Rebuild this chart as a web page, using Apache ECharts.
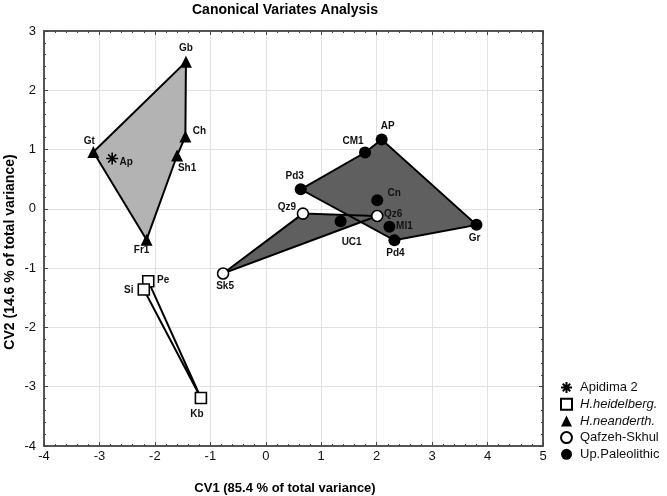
<!DOCTYPE html>
<html>
<head>
<meta charset="utf-8">
<script src="https://cdn.jsdelivr.net/npm/echarts@6/dist/echarts.min.js"></script>
<style>html,body{margin:0;padding:0;background:#fff;}#c{width:667px;height:496px;}</style>
</head>
<body>
<div id="c"></div>
<script>
// ---- data ----
const apidimaNames = ['Ap'];
const apidimaX = [-2.77];
const apidimaY = [0.85];

const heidelNames = ['Pe', 'Si', 'Kb'];
const heidelX = [-2.12, -2.20, -1.17];
const heidelY = [-1.22, -1.36, -3.19];

const neanderNames = ['Gb', 'Ch', 'Sh1', 'Gt', 'Fr1'];
const neanderX = [-1.44, -1.45, -1.60, -3.11, -2.15];
const neanderY = [2.48, 1.22, 0.90, 0.96, -0.52];

const qafzehNames = ['Qz9', 'Qz6', 'Sk5'];
const qafzehX = [0.67, 2.01, -0.77];
const qafzehY = [-0.08, -0.12, -1.09];

const upPalNames = ['AP', 'CM1', 'Pd3', 'Cn', 'UC1', 'Ml1', 'Pd4', 'Gr'];
const upPalX = [2.09, 1.79, 0.63, 2.01, 1.35, 2.23, 2.32, 3.80];
const upPalY = [1.17, 0.95, 0.33, 0.145, -0.21, -0.30, -0.53, -0.27];

const seriesNames = ['Apidima 2', 'H.heidelberg.', 'H.neanderth.', 'Qafzeh-Skhul', 'Up.Paleolithic'];

// polygon outlines (vertex order by specimen name)
const neanderHull = ['Gt', 'Gb', 'Ch', 'Sh1', 'Fr1'];
const heidelHull = ['Pe', 'Kb', 'Si'];
const qafzehHull = ['Sk5', 'Qz9', 'Qz6'];
const upPalHull = ['Pd3', 'CM1', 'AP', 'Gr', 'Pd4'];

// ---- layout / style ----
const FONT = '"Liberation Sans", Arial, sans-serif';
const labelOffsets = {
  Ap: [14, 4], Pe: [15, -1], Si: [-15, 1], Kb: [-4, 16],
  Gb: [0, -14], Ch: [14, -5], Sh1: [10, 13], Gt: [-4, -11], Fr1: [-5, 11],
  Qz9: [-16, -6], Qz6: [16, -2], Sk5: [2, 13],
  AP: [6, -13], CM1: [-12, -11], Pd3: [-6, -13], Cn: [17, -7], UC1: [11, 21],
  Ml1: [15, 0], Pd4: [1, 13], Gr: [-2, 13]
};
const asterisk = 'path://M5,0L5,10M0,5L10,5M1.6,1.6L8.4,8.4M8.4,1.6L1.6,8.4';

function pts(names, xs, ys) {
  return names.map((n, i) => ({
    value: [xs[i], ys[i]],
    name: n,
    label: { offset: labelOffsets[n] || [0, 0] }
  }));
}
function hullVerts(order, names, xs, ys) {
  return order.map(n => { const i = names.indexOf(n); return [xs[i], ys[i]]; });
}
function polySeries(verts, fill, stroke, z) {
  return {
    type: 'custom', z: z, silent: true, data: verts, encode: { x: 0, y: 1 },
    renderItem: function (params, api) {
      if (params.dataIndex !== 0) return { type: 'group', children: [] };
      return {
        type: 'polygon',
        shape: { points: verts.map(v => api.coord(v)) },
        style: { fill: fill, stroke: stroke, lineWidth: stroke === 'none' ? 0 : 2, lineJoin: 'miter' }
      };
    }
  };
}
const labelCfg = {
  show: true, position: 'inside', formatter: '{b}', color: '#111',
  fontSize: 10, fontWeight: 'bold', fontFamily: FONT, textBorderWidth: 0
};

const upV = hullVerts(upPalHull, upPalNames, upPalX, upPalY);
const qzV = hullVerts(qafzehHull, qafzehNames, qafzehX, qafzehY);
const neV = hullVerts(neanderHull, neanderNames, neanderX, neanderY);
const heV = hullVerts(heidelHull, heidelNames, heidelX, heidelY);

const axisCommonX = {
  type: 'value', min: -4, max: 5, interval: 1,
  axisLine: { show: true, onZero: false, lineStyle: { color: '#555', width: 2 } },
  axisTick: { show: true, inside: true, length: 4, lineStyle: { color: '#444' } },
  minorTick: { show: true, splitNumber: 5, length: 2, lineStyle: { color: '#444' } }
};
const axisCommonY = {
  type: 'value', min: -4, max: 3, interval: 1,
  axisLine: { show: true, onZero: false, lineStyle: { color: '#555', width: 2 } },
  axisTick: { show: true, inside: true, length: 4, lineStyle: { color: '#444' } },
  minorTick: { show: true, splitNumber: 5, length: 2, lineStyle: { color: '#444' } }
};

const option = {
  backgroundColor: '#fff',
  animation: false,
  grid: { left: 44, top: 31, width: 499, height: 415 },
  xAxis: [
    Object.assign({}, axisCommonX, {
      position: 'bottom',
      axisLabel: { color: '#111', fontSize: 13, fontFamily: FONT, margin: 4 },
      splitLine: { show: true, lineStyle: { color: '#e2e2e2', width: 1 } }
    }),
    Object.assign({}, axisCommonX, {
      position: 'top', axisLabel: { show: false }, splitLine: { show: false }
    })
  ],
  yAxis: [
    Object.assign({}, axisCommonY, {
      position: 'left',
      axisLabel: { color: '#111', fontSize: 13, fontFamily: FONT, margin: 8 },
      splitLine: { show: true, lineStyle: { color: '#e2e2e2', width: 1 } }
    }),
    Object.assign({}, axisCommonY, {
      position: 'right', axisLabel: { show: false }, splitLine: { show: false }
    })
  ],
  legend: {
    orient: 'vertical', left: 555, top: 376,
    itemWidth: 11, itemHeight: 11, itemGap: 3.7,
    textStyle: { fontSize: 13, fontFamily: FONT, color: '#111', lineHeight: 11, padding: [0, 0, 0, 3] },
    data: [
      { name: seriesNames[0], icon: asterisk },
      { name: seriesNames[1], icon: 'rect', textStyle: { fontStyle: 'italic' } },
      { name: seriesNames[2], icon: 'triangle', textStyle: { fontStyle: 'italic' } },
      { name: seriesNames[3], icon: 'circle' },
      { name: seriesNames[4], icon: 'circle' }
    ]
  },
  graphic: [
    { type: 'text', x: 285, y: 10, style: { text: 'Canonical Variates Analysis', font: 'bold 14px ' + FONT, fill: '#000', align: 'center', verticalAlign: 'middle' } },
    { type: 'text', x: 285, y: 488, style: { text: 'CV1 (85.4 % of total variance)', font: 'bold 13px ' + FONT, fill: '#000', align: 'center', verticalAlign: 'middle' } },
    { type: 'text', x: 10, y: 252, rotation: Math.PI / 2, style: { text: 'CV2 (14.6 % of total variance)', font: 'bold 14px ' + FONT, fill: '#000', align: 'center', verticalAlign: 'middle' } }
  ],
  series: [
    polySeries(neV, '#b3b3b3', 'none', 1),
    polySeries(heV, '#ffffff', 'none', 1),
    polySeries(upV, '#5f5f5f', 'none', 1),
    polySeries(qzV, '#5f5f5f', 'none', 1),
    polySeries(neV, 'none', '#000', 2),
    polySeries(heV, 'none', '#000', 2),
    polySeries(upV, 'none', '#000', 2),
    polySeries(qzV, 'none', '#000', 2),
    {
      name: seriesNames[0], type: 'scatter', z: 3, symbol: asterisk, symbolSize: 12,
      itemStyle: { color: 'rgba(0,0,0,0)', borderColor: '#000', borderWidth: 1.6, opacity: 1 },
      label: labelCfg, data: pts(apidimaNames, apidimaX, apidimaY)
    },
    {
      name: seriesNames[1], type: 'scatter', z: 3, symbol: 'rect', symbolSize: 11,
      itemStyle: { color: '#fff', borderColor: '#000', borderWidth: 1.6, opacity: 1 },
      label: labelCfg, data: pts(heidelNames, heidelX, heidelY)
    },
    {
      name: seriesNames[2], type: 'scatter', z: 3, symbol: 'triangle', symbolSize: 12,
      itemStyle: { color: '#000', opacity: 1 },
      label: labelCfg, data: pts(neanderNames, neanderX, neanderY)
    },
    {
      name: seriesNames[3], type: 'scatter', z: 3, symbol: 'circle', symbolSize: 11,
      itemStyle: { color: '#fff', borderColor: '#000', borderWidth: 1.6, opacity: 1 },
      label: labelCfg, data: pts(qafzehNames, qafzehX, qafzehY)
    },
    {
      name: seriesNames[4], type: 'scatter', z: 3, symbol: 'circle', symbolSize: 12,
      itemStyle: { color: '#000', opacity: 1 },
      label: labelCfg, data: pts(upPalNames, upPalX, upPalY)
    }
  ]
};
const chart = echarts.init(document.getElementById('c'), null, { renderer: 'canvas' });
chart.setOption(option);
</script>
</body>
</html>
